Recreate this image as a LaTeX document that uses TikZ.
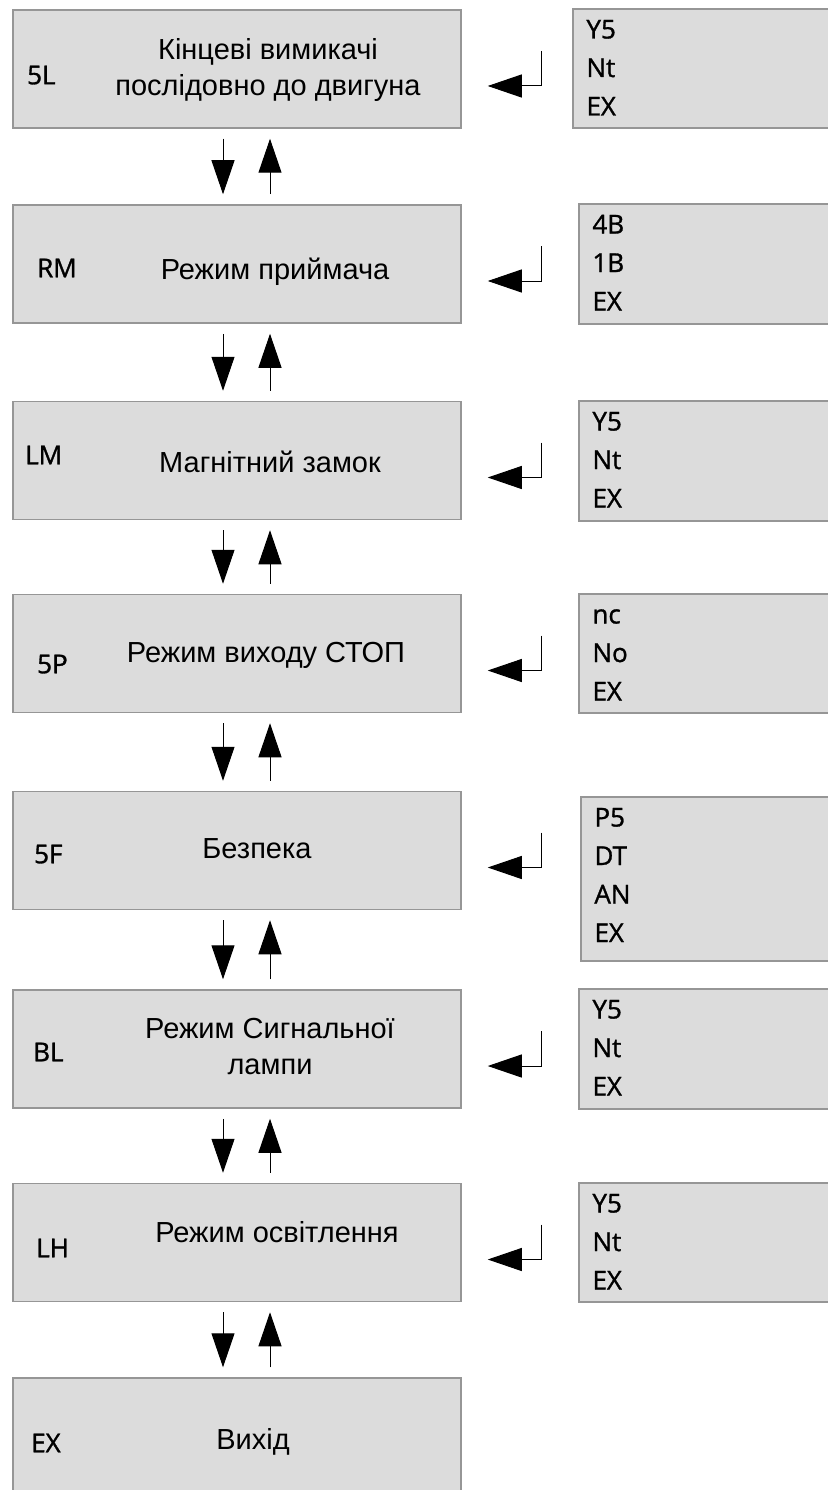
\documentclass[tikz,border=0pt]{standalone}
\usepackage{fontspec}
\setmainfont{Liberation Sans}
\newfontfamily\codefont[FakeBold=1.2]{Open Sans}
\usetikzlibrary{arrows.meta}

\definecolor{boxgray}{RGB}{220,220,220}
\definecolor{edgegray}{RGB}{150,150,150}

\tikzset{
  menu/.style={draw=edgegray, line width=1.5pt, fill=boxgray,
    minimum width=448pt, minimum height=118pt, inner sep=0pt},
  opts/.style={draw=edgegray, line width=1.5pt, fill=boxgray,
    minimum width=251pt, minimum height=119pt, inner sep=0pt},
  title/.style={font=\fontsize{29}{36}\selectfont, align=center, inner sep=0pt},
  oneline/.style={text height=21pt, text depth=0pt},
  code/.style={font=\codefont\fontsize{26}{30}\selectfont, anchor=west,
    inner sep=0pt, text height=18.5pt, text depth=0pt},
  nav/.style={line width=1pt, -{Triangle[length=34pt,width=23pt]},
    shorten <=10pt, shorten >=10pt},
  back/.style={line width=1pt, -{Triangle[length=34pt,width=23pt]}}
}

\begin{document}
\begin{tikzpicture}[x=1pt, y=-1pt]
  \useasboundingbox (0,0) rectangle (827,1490);

  % menu entries
  \node[menu] (m1) at (237,69) {};
  \node[menu] (m2) at (237,264) {};
  \node[menu] (m3) at (237,460.5) {};
  \node[menu] (m4) at (237,653.5) {};
  \node[menu] (m5) at (237,850.5) {};
  \node[menu] (m6) at (237,1049) {};
  \node[menu] (m7) at (237,1242.5) {};
  \node[menu] (m8) at (237,1437) {};

  \node[title] (t1) at (268,70) {Кінцеві вимикачі\\послідовно до двигуна};
  \node[title, oneline] (t2) at (275,269) {Режим приймача};
  \node[title, oneline] (t3) at (270,462) {Магнітний замок};
  \node[title, oneline] (t4) at (266,652) {Режим виходу СТОП};
  \node[title, oneline] (t5) at (257,848) {Безпека};
  \node[title] (t6) at (270,1047) {Режим Сигнальної\\лампи};
  \node[title, oneline] (t7) at (277,1232) {Режим освітлення};
  \node[title, oneline] (t8) at (253,1439) {Вихід};

  \node[code] (c1) at (27,75) {5L};
  \node[code] (c2) at (37,268) {RM};
  \node[code] (c3) at (25,455) {LM};
  \node[code] (c4) at (37,664) {5P};
  \node[code] (c5) at (34,854) {5F};
  \node[code] (c6) at (33,1052) {BL};
  \node[code] (c7) at (36,1248) {LH};
  \node[code] (c8) at (31,1443) {EX};

  % option lists
  \node[opts, minimum width=257pt] (r1) at (701.5,68.5) {};
  \node[opts, minimum height=120pt] (r2) at (704.5,264) {};
  \node[opts, minimum height=120pt] (r3) at (704.5,461) {};
  \node[opts] (r4) at (704.5,653.5) {};
  \node[opts, minimum width=249pt, minimum height=164pt] (r5) at (705.5,879) {};
  \node[opts, minimum height=120pt] (r6) at (704.5,1049) {};
  \node[opts] (r7) at (704.5,1242.5) {};

  \foreach \r/\list in {r1/{Y5,Nt,EX}, r2/{4B,1B,EX}, r3/{Y5,Nt,EX},
      r4/{nc,No,EX}, r5/{P5,DT,AN,EX}, r6/{Y5,Nt,EX}, r7/{Y5,Nt,EX}}
    \foreach \t [count=\i] in \list
      \node[code] (\r-\i) at ([xshift=14pt,yshift={-21pt-38.5pt*(\i-1)}]\r.north west) {\t};

  % up and down
  \foreach \a/\b in {m1/m2, m2/m3, m3/m4, m4/m5, m5/m6, m6/m7, m7/m8} {
    \draw[nav] ([xshift=-14pt]\a.south) -- ([xshift=-14pt]\b.north);
    \draw[nav] ([xshift=33pt]\b.north) -- ([xshift=33pt]\a.south);
  }

  % enter
  \foreach \m in {1,...,7} {
    \coordinate (k\m) at ([xshift=80pt,yshift=18pt]m\m.east);
    \draw[back] (k\m) |- ([xshift=26pt,yshift=-17pt]m\m.east);
  }
\end{tikzpicture}
\end{document}
